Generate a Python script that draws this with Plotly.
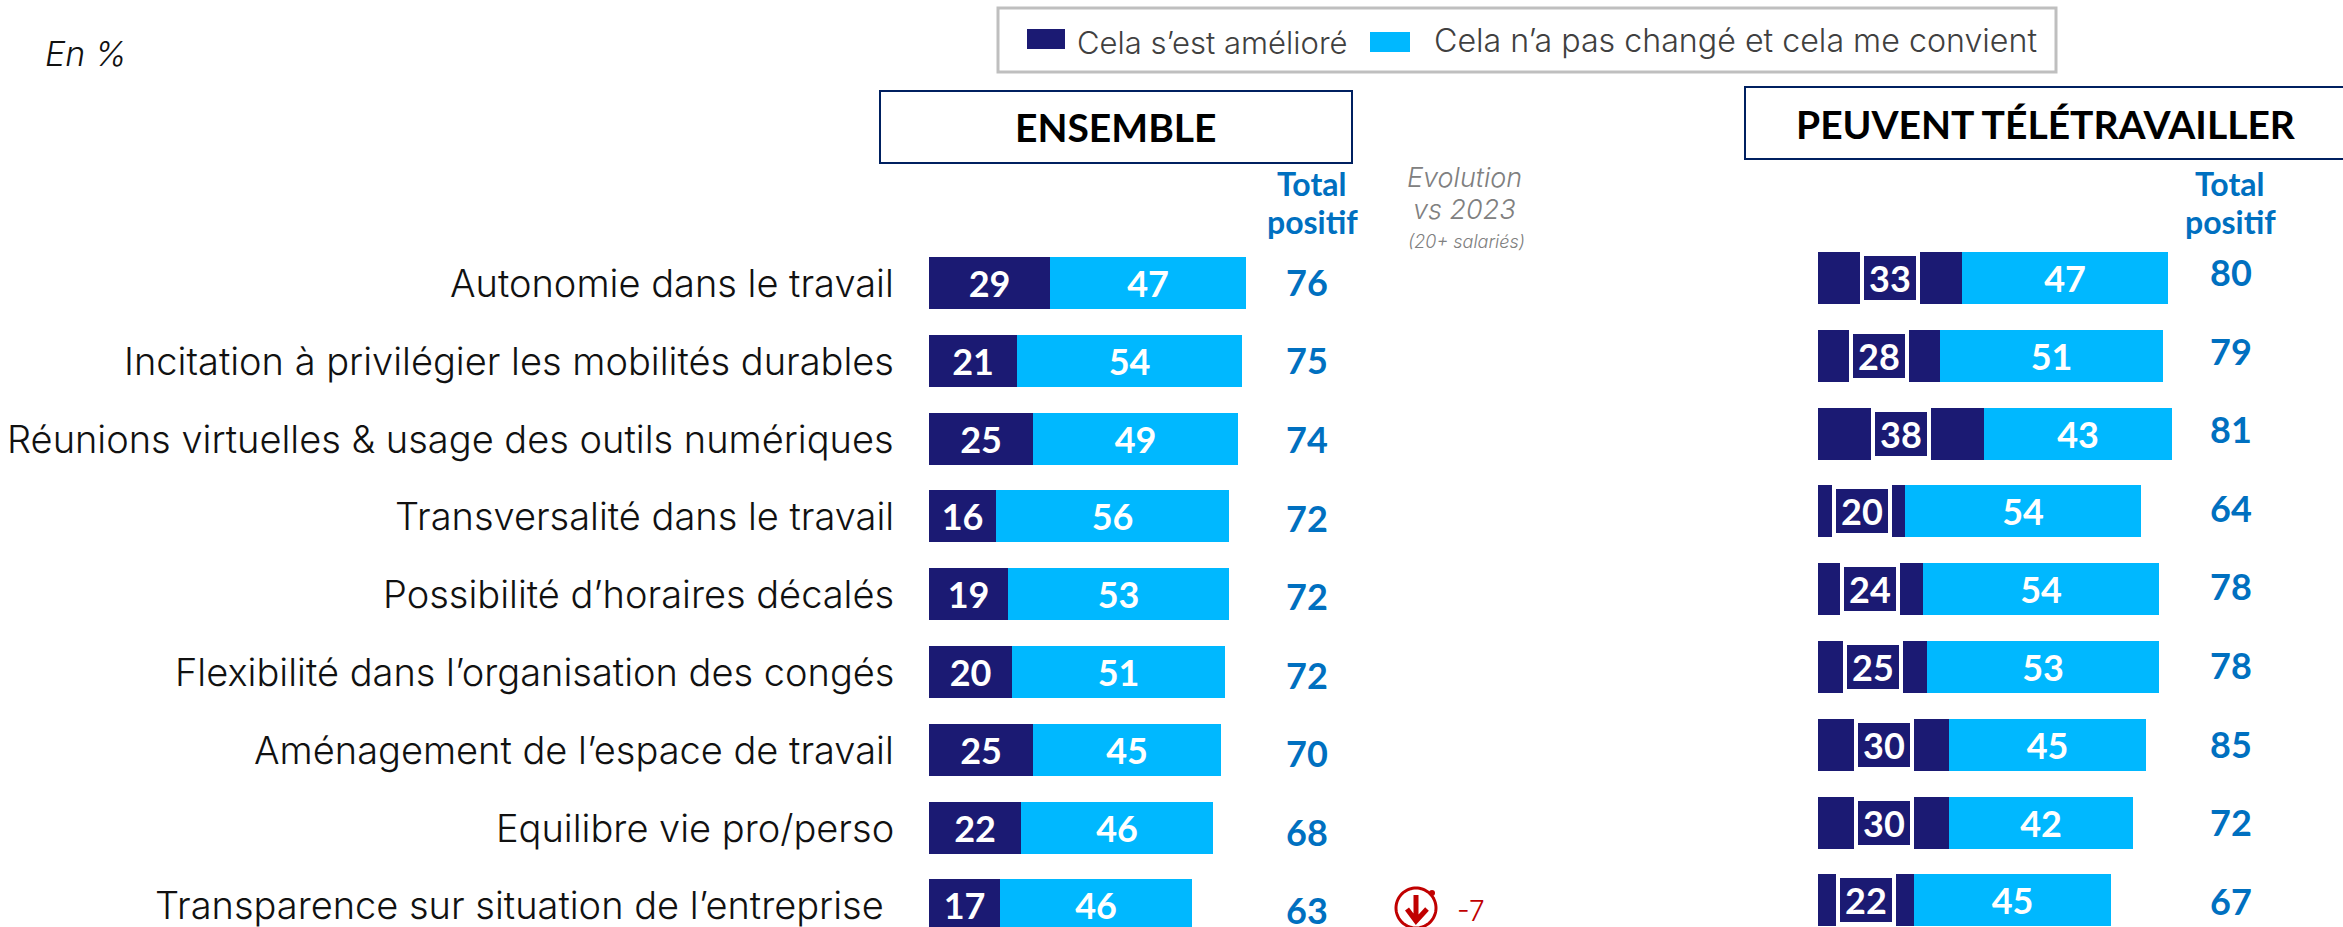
import math
import plotly.graph_objects as go

W, H = 2343, 927
categories = ["Autonomie dans le travail", "Incitation à privilégier les mobilités durables",
              "Réunions virtuelles & usage des outils numériques", "Transversalité dans le travail",
              "Possibilité d’horaires décalés", "Flexibilité dans l’organisation des congés",
              "Aménagement de l’espace de travail", "Equilibre vie pro/perso",
              "Transparence sur situation de l’entreprise"]
ens_improved = [29, 21, 25, 16, 19, 20, 25, 22, 17]
ens_same = [47, 54, 49, 56, 53, 51, 45, 46, 46]
ens_total = [76, 75, 74, 72, 72, 72, 70, 68, 63]
tele_improved = [33, 28, 38, 20, 24, 25, 30, 30, 22]
tele_same = [47, 51, 43, 54, 54, 53, 45, 42, 45]
tele_total = [80, 79, 81, 64, 78, 78, 85, 72, 67]
series_names = ["Cela s’est amélioré", "Cela n’a pas changé et cela me convient"]

NAVY, SKY, BLUE, RED, GREY = "#1B1A73", "#00B8FF", "#0070C0", "#C00000", "#808080"
FONT = "Lato"
THIN = "Inter"
STEP = 77.8


def px(x):
    return x / W


def py(y):
    return 1 - y / H


fig = go.Figure()
common = dict(orientation="h", y=categories, textposition="inside", insidetextanchor="middle",
              textangle=0, constraintext="none", width=52 / STEP, showlegend=False,
              textfont=dict(family=FONT, size=36, color="white", weight="bold"), marker_line_width=0)
fig.add_trace(go.Bar(x=ens_improved, text=ens_improved, name=series_names[0], marker_color=NAVY, xaxis="x", yaxis="y", **common))
fig.add_trace(go.Bar(x=ens_same, text=ens_same, name=series_names[1], marker_color=SKY, xaxis="x", yaxis="y", **common))
fig.add_trace(go.Bar(x=tele_improved, name=series_names[0], marker_color=NAVY, xaxis="x2", yaxis="y2", **common))
fig.add_trace(go.Bar(x=tele_same, text=tele_same, name=series_names[1], marker_color=SKY, xaxis="x2", yaxis="y2", **common))


def note(text, x, y, size, color="black", anchor="center", weight="normal", style="normal", family=FONT):
    fig.add_annotation(text=text, x=px(x), y=py(y), xref="paper", yref="paper", showarrow=False,
                       xanchor=anchor, yanchor="middle", borderpad=0,
                       font=dict(family=family, size=size, color=color, weight=weight, style=style))


def box(x0, y0, x1, y1, line=None, lw=0, fill=None):
    fig.add_shape(type="rect", x0=px(x0), x1=px(x1), y0=py(y0), y1=py(y1), xref="paper", yref="paper",
                  line=dict(color=line or "rgba(0,0,0,0)", width=lw), fillcolor=fill or "rgba(0,0,0,0)")


# category labels
for i, c in enumerate(categories):
    fig.add_annotation(text=c, x=px(886 if i == 8 else 896), y=c, xref="paper", yref="y", showarrow=False,
                       xanchor="right", yanchor="middle",
                       font=dict(family=THIN, size=38, color="#111111", weight=300))

# framed values on the right-hand dark segments
for c, v in zip(categories, tele_improved):
    fig.add_annotation(text=str(v), x=v / 2, y=c, xref="x2", yref="y2", showarrow=False, width=52, height=44,
                       bgcolor=NAVY, bordercolor="white", borderwidth=4, borderpad=0, align="center", valign="middle",
                       font=dict(family=FONT, size=36, color="white", weight="bold"))

# totals
for i, v in enumerate(ens_total):
    note(str(v), 1307, 282 + 78.5 * i, 36, BLUE, weight="bold")
for i, v in enumerate(tele_total):
    note(str(v), 2231, 272 + 78.6 * i, 36, BLUE, weight="bold")

# column headings
for cx in (1312, 2230):
    note("Total", cx, 183, 32, BLUE, weight="bold")
    note("positif", cx, 221, 32, BLUE, weight="bold")
note("Evolution", 1464, 178, 27, GREY, style="italic", family=THIN, weight=300)
note("vs 2023", 1464, 210, 27, GREY, style="italic", family=THIN, weight=300)
note("(20+ salariés)", 1466, 241, 18, GREY, style="italic", family=THIN, weight=300)
note("En %", 86, 54, 34, "#111111", style="italic", family=THIN, weight=300)

# panel titles
box(880, 91, 1352, 163, "#002060", 2)
note("ENSEMBLE", 1116, 127, 39, "black", weight="bold")
box(1745, 87, 2360, 159, "#002060", 2)
note("PEUVENT TÉLÉTRAVAILLER", 2046, 124, 39, "black", weight="bold")

# legend
box(998, 8, 2056, 72, "#BFBFBF", 3)
box(1027, 29, 1065, 49, fill=NAVY)
box(1370, 32, 1410, 52, fill=SKY)
note(series_names[0], 1076, 42, 31, "#404040", anchor="left", family=THIN, weight=300)
note(series_names[1], 1433, 41, 32.2, "#404040", anchor="left", family=THIN, weight=300)

# evolution marker: broken ring, dot and arrow
cx, cy, r = 1416, 908, 20
arc = [(cx + r * math.cos(math.radians(a)), cy - r * math.sin(math.radians(a))) for a in range(-335, 31, 5)]
arc_path = "M " + " L ".join(f"{px(x)} {py(y)}" for x, y in arc)
fig.add_shape(type="path", xref="paper", yref="paper", line=dict(color=RED, width=3), path=arc_path)
fig.add_shape(type="circle", x0=px(1429), x1=px(1435), y0=py(890), y1=py(896), xref="paper", yref="paper",
              line_width=0, fillcolor=RED)
fig.add_shape(type="path", xref="paper", yref="paper", line=dict(color=RED, width=5),
              path=f"M {px(1416)} {py(895)} L {px(1416)} {py(921)} M {px(1407)} {py(909)} L {px(1416)} {py(921)} L {px(1427)} {py(909)}")
note("-7", 1456, 911, 28, RED, anchor="left", family=THIN, weight=300)

x1_end, x2_end = 1400, W
hidden = dict(visible=False, fixedrange=True)
fig.update_layout(
    width=W, height=H, margin=dict(l=0, r=0, t=0, b=0), barmode="stack", bargap=0,
    paper_bgcolor="white", plot_bgcolor="rgba(0,0,0,0)", showlegend=False,
    xaxis=dict(domain=[px(929), px(x1_end)], range=[0, (x1_end - 929) / 4.17], anchor="y", **hidden),
    xaxis2=dict(domain=[px(1818), px(x2_end)], range=[0, (x2_end - 1818) / 4.37], anchor="y2", **hidden),
    yaxis=dict(domain=[0, 1], range=[(H - 283) / STEP, -283 / STEP], anchor="x", type="category",
               categoryorder="array", categoryarray=categories, **hidden),
    yaxis2=dict(domain=[0, 1], range=[(H - 278) / STEP, -278 / STEP], anchor="x2", type="category",
                categoryorder="array", categoryarray=categories, **hidden),
)
fig.write_html("out.html", post_script="document.body.style.margin='0';", config=dict(displayModeBar=False))
